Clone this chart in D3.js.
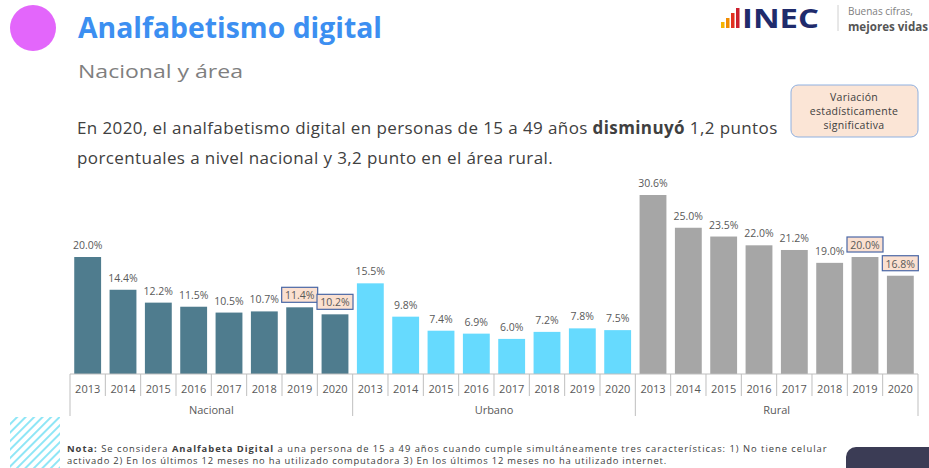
<!DOCTYPE html>
<html>
<head>
<meta charset="utf-8">
<script src="https://cdn.jsdelivr.net/npm/d3@7"></script>
<style>
    body { margin: 0; background: #ffffff; }
    svg { display: block; font-family: "Open Sans", "DejaVu Sans", sans-serif; }
</style>
</head>
<body>
<div id="chart"></div>
<script>
const areas = ["Nacional", "Urbano", "Rural"];
const years = ["2013", "2014", "2015", "2016", "2017", "2018", "2019", "2020"];
const nacional = [20.0, 14.4, 12.2, 11.5, 10.5, 10.7, 11.4, 10.2];
const urbano = [15.5, 9.8, 7.4, 6.9, 6.0, 7.2, 7.8, 7.5];
const rural = [30.6, 25.0, 23.5, 22.0, 21.2, 19.0, 20.0, 16.8];
// años con variación estadísticamente significativa
const significativo = { Nacional: ["2019", "2020"], Urbano: [], Rural: ["2019", "2020"] };

const width = 929;
const height = 468;
const baseY = 374;

const colorMap = { Nacional: "#4f7c8e", Urbano: "#66dafe", Rural: "#a6a6a6" };
const seriesMap = { Nacional: nacional, Urbano: urbano, Rural: rural };

const rows = [];
areas.forEach(area => {
    years.forEach((y, i) => rows.push({ area: area, year: y, value: seriesMap[area][i] }));
});

const svg = d3.select("#chart")
    .append("svg")
    .attr("width", width)
    .attr("height", height);

// header
svg.append("circle").attr("cx", 33).attr("cy", 28).attr("r", 23).attr("fill", "#e366fb");

svg.append("text")
    .attr("x", 78).attr("y", 38)
    .attr("fill", "#3c8ff1")
    .attr("font-size", "29px")
    .attr("font-weight", "bold")
    .attr("textLength", 304)
    .attr("lengthAdjust", "spacingAndGlyphs")
    .text("Analfabetismo digital");

svg.append("text")
    .attr("x", 78).attr("y", 78)
    .attr("fill", "#7f7f7f")
    .attr("font-size", "19px")
    .attr("textLength", 165)
    .attr("lengthAdjust", "spacingAndGlyphs")
    .text("Nacional y área");

// logo
const logoBars = [
    { x: 721, h: 6, c: "#f6b400" },
    { x: 726, h: 10, c: "#f08c00" },
    { x: 731, h: 15, c: "#e1301f" },
    { x: 736, h: 20, c: "#cc1f2d" }
];
svg.selectAll(".logoBar")
    .data(logoBars)
    .enter()
    .append("rect")
    .attr("class", "logoBar")
    .attr("x", d => d.x)
    .attr("y", d => 28 - d.h)
    .attr("width", 3.5)
    .attr("height", d => d.h)
    .attr("fill", d => d.c);

svg.append("text")
    .attr("x", 742).attr("y", 28)
    .attr("fill", "#1f2b6c")
    .attr("font-size", "26px")
    .attr("font-weight", "bold")
    .attr("textLength", 77)
    .attr("lengthAdjust", "spacingAndGlyphs")
    .text("INEC");

svg.append("line")
    .attr("x1", 838).attr("x2", 838).attr("y1", 5).attr("y2", 31)
    .attr("stroke", "#d0d0d0");

svg.append("text")
    .attr("x", 848).attr("y", 15)
    .attr("fill", "#808080")
    .attr("font-size", "10px")
    .text("Buenas cifras,");

svg.append("text")
    .attr("x", 848).attr("y", 31)
    .attr("fill", "#555555")
    .attr("font-size", "11.5px")
    .attr("font-weight", "bold")
    .attr("textLength", 80)
    .attr("lengthAdjust", "spacingAndGlyphs")
    .text("mejores vidas");

// legend box
svg.append("rect")
    .attr("x", 791).attr("y", 85)
    .attr("width", 127).attr("height", 52)
    .attr("rx", 7)
    .attr("fill", "#fbe5d6")
    .attr("stroke", "#8fb0e0")
    .attr("stroke-width", 1);

["Variación", "estadísticamente", "significativa"].forEach((t, i) => {
    svg.append("text")
        .attr("x", 854).attr("y", 101 + i * 14)
        .attr("text-anchor", "middle")
        .attr("fill", "#404040")
        .attr("font-size", "10.5px")
        .attr("letter-spacing", "0.3px")
        .text(t);
});

// body text
const line1 = svg.append("text")
    .attr("x", 77).attr("y", 134)
    .attr("fill", "#404040")
    .attr("font-size", "17px")
    .attr("letter-spacing", "0.4px");
line1.append("tspan").text("En 2020, el analfabetismo digital en personas de 15 a 49 años ");
line1.append("tspan").attr("font-weight", "bold").text("disminuyó");
line1.append("tspan").text(" 1,2 puntos");

svg.append("text")
    .attr("x", 77).attr("y", 164)
    .attr("fill", "#404040")
    .attr("font-size", "17px")
    .attr("letter-spacing", "0.4px")
    .text("porcentuales a nivel nacional y 3,2 punto en el área rural.");

// scales
const xGroup = d3.scaleBand()
    .domain(areas)
    .range([70, 918])
    .padding(0);

const xYear = d3.scaleBand()
    .domain(years)
    .range([0, xGroup.bandwidth()])
    .paddingInner(0.24)
    .paddingOuter(0.12);

const yScale = d3.scaleLinear()
    .domain([0, 30.6])
    .range([baseY, 195]);

const xPos = d => xGroup(d.area) + xYear(d.year);

// bars
svg.selectAll(".bar")
    .data(rows)
    .enter()
    .append("rect")
    .attr("class", "bar")
    .attr("x", xPos)
    .attr("y", d => yScale(d.value))
    .attr("width", xYear.bandwidth())
    .attr("height", d => baseY - yScale(d.value))
    .attr("fill", d => colorMap[d.area]);

// highlight boxes behind labels
const isSig = d => significativo[d.area].includes(d.year);

svg.selectAll(".sigBox")
    .data(rows.filter(isSig))
    .enter()
    .append("rect")
    .attr("class", "sigBox")
    .attr("x", d => xPos(d) + xYear.bandwidth() / 2 - 18)
    .attr("y", d => yScale(d.value) - 20)
    .attr("width", 36)
    .attr("height", 15)
    .attr("fill", "#fbe0d0")
    .attr("stroke", "#4a67a6")
    .attr("stroke-width", 1.2);

// value labels
svg.selectAll(".valLabel")
    .data(rows)
    .enter()
    .append("text")
    .attr("class", "valLabel")
    .attr("x", d => xPos(d) + xYear.bandwidth() / 2)
    .attr("y", d => yScale(d.value) - 8)
    .attr("text-anchor", "middle")
    .attr("fill", "#595959")
    .attr("font-size", "10.5px")
    .text(d => d.value.toFixed(1) + "%");

// category axis
svg.append("line")
    .attr("x1", 70).attr("x2", 918)
    .attr("y1", baseY).attr("y2", baseY)
    .attr("stroke", "#bfbfbf");

areas.forEach(area => {
    const g = svg.append("g").attr("transform", `translate(${xGroup(area)}, ${baseY})`);
    const yearAxis = d3.axisBottom(xYear).tickSize(0).tickPadding(11);
    g.call(yearAxis);
    g.select(".domain").remove();
    g.selectAll("text")
        .attr("fill", "#595959")
        .attr("font-size", "11px")
        .attr("font-family", "\"Open Sans\", sans-serif");

    // separators between years
    const step = xYear.step();
    const inner = d3.range(1, years.length).map(i => xYear.paddingOuter() * step + i * step - xYear.paddingInner() * step / 2);
    g.selectAll(".yearSep")
        .data(inner)
        .enter()
        .append("line")
        .attr("x1", d => d).attr("x2", d => d)
        .attr("y1", 0).attr("y2", 22)
        .attr("stroke", "#bfbfbf");

    svg.append("text")
        .attr("x", xGroup(area) + xGroup.bandwidth() / 2)
        .attr("y", 414)
        .attr("text-anchor", "middle")
        .attr("fill", "#595959")
        .attr("font-size", "11px")
        .text(area);
});

svg.selectAll(".groupSep")
    .data([70, 918].concat(areas.slice(1).map(a => xGroup(a))))
    .enter()
    .append("line")
    .attr("x1", d => d).attr("x2", d => d)
    .attr("y1", baseY).attr("y2", 416)
    .attr("stroke", "#bfbfbf");

// footer hatch
const defs = svg.append("defs");
const pat = defs.append("pattern")
    .attr("id", "hatch")
    .attr("patternUnits", "userSpaceOnUse")
    .attr("width", 6).attr("height", 6)
    .attr("patternTransform", "rotate(45)");
pat.append("rect").attr("width", 2).attr("height", 6).attr("fill", "#8fe6f6");

svg.append("rect")
    .attr("x", 10).attr("y", 417)
    .attr("width", 50).attr("height", 51)
    .attr("fill", "url(#hatch)");

// note
const nota1 = svg.append("text")
    .attr("x", 67).attr("y", 452)
    .attr("fill", "#404040")
    .attr("font-size", "9.4px")
    .attr("letter-spacing", "0.98px");
nota1.append("tspan").attr("font-weight", "bold").text("Nota:");
nota1.append("tspan").text(" Se considera ");
nota1.append("tspan").attr("font-weight", "bold").text("Analfabeta Digital");
nota1.append("tspan").text(" a una persona de 15 a 49 años cuando cumple simultáneamente tres características: 1) No tiene celular");

svg.append("text")
    .attr("x", 67).attr("y", 464)
    .attr("fill", "#404040")
    .attr("font-size", "9.4px")
    .attr("letter-spacing", "0.8px")
    .text("activado 2) En los últimos 12 meses no ha utilizado computadora 3) En los últimos 12 meses no ha utilizado internet.");

// dark corner tab
svg.append("rect")
    .attr("x", 846).attr("y", 447)
    .attr("width", 100).attr("height", 40)
    .attr("rx", 10)
    .attr("fill", "#3b3c55");
</script>
</body>
</html>
